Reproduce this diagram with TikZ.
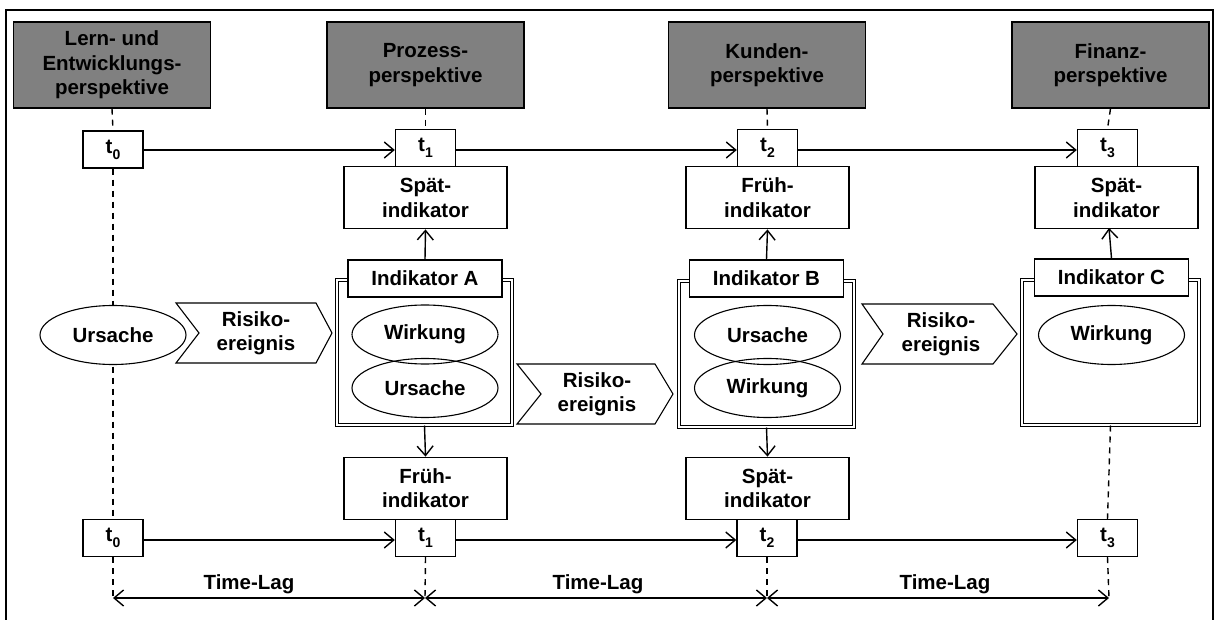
\documentclass[tikz,border=0pt]{standalone}
\usepackage{fontspec}
\setmainfont{Liberation Sans}
\usetikzlibrary{arrows.meta,shapes.geometric}
\definecolor{hdrgray}{RGB}{128,128,128}
\newcommand{\tsub}[1]{t\raisebox{-6pt}{\fontsize{14}{14}\selectfont #1}}
\begin{document}
\begin{tikzpicture}[x=1pt,y=-1pt,
  line width=1.4pt,
  >={Straight Barb[length=9.5pt,width=16pt]},
  every node/.style={font=\bfseries\fontsize{20.5}{24.5}\selectfont, align=center, inner sep=0pt},
  hdr/.style={draw, fill=hdrgray, minimum width=197pt, minimum height=86pt},
  tbox/.style={draw, fill=white, minimum width=60pt, minimum height=37pt},
  indbox/.style={draw, fill=white, minimum width=163pt, minimum height=62pt},
  labbox/.style={draw, fill=white, minimum width=154pt, minimum height=37pt},
  dblbox/.style={draw, double, double distance=2pt, line width=1pt, fill=white},
  oval/.style={draw, ellipse, line width=1.1pt, minimum width=146pt, minimum height=59pt},
  dline/.style={dash pattern=on 6pt off 5pt},
  chev/.style={draw, line width=1.1pt, fill=white},
]
\useasboundingbox (0,0) rectangle (1219,620);
% outer frame
\draw[line width=1.8pt] (6,10) rectangle (1213,640);

% perspective headers
\node[hdr] (h0) at (112,65)   {Lern- und\\Entwicklungs-\\perspektive};
\node[hdr] (h1) at (425.5,65) {Prozess-\\perspektive};
\node[hdr] (h2) at (767,65)   {Kunden-\\perspektive};
\node[hdr] (h3) at (1110.5,65){Finanz-\\perspektive};

% time-lag reference points
\coordinate (L0) at (113,598);
\coordinate (L1) at (425,598);
\coordinate (L2) at (767,598);
\coordinate (L3) at (1109,598);

% time marks, upper row
\node[tbox] (t0) at (113,149.5) {\tsub{0}};
\node[tbox] (t1) at (425.5,148) {\tsub{1}};
\node[tbox] (t2) at (767.5,148) {\tsub{2}};
\node[tbox] (t3) at (1107.5,148) {\tsub{3}};

% time marks, lower row
\node[tbox] (b0) at (113,538) {\tsub{0}};
\node[tbox] (b1) at (425.5,538) {\tsub{1}};
\node[tbox] (b2) at (767,538) {\tsub{2}};
\node[tbox] (b3) at (1107.5,538) {\tsub{3}};

% dashed column guides
\draw[dline] (h0.south) -- (t0.north);
\draw[dline] (t0.south) -- (b0.north);
\draw[dline] (b0.south) -- (L0);
\draw[dline] (h1.south) -- (t1.north);
\draw[dline] (b1.south) -- (L1);
\draw[dline] (h2.south) -- (t2.north);
\draw[dline] (b2.south) -- (L2);
\draw[dline] (h3.south) -- (t3.north);
\draw[dline] (b3.south) -- (L3);

% indicator boxes, upper row
\node[indbox, anchor=north] (s1) at (425.5,166) {Spät-\\indikator};
\node[indbox, anchor=north] (f2) at (767.5,166) {Früh-\\indikator};
\node[indbox, anchor=north] (s3) at (1116.5,166) {Spät-\\indikator};

% indicator boxes, lower row
\node[indbox, anchor=south] (f1) at (425.5,520) {Früh-\\indikator};
\node[indbox, anchor=south] (s2) at (767.5,520) {Spät-\\indikator};

% framed indicator groups
\node[dblbox, minimum width=175pt, minimum height=145pt] (d1) at (424.5,352.5) {};
\node[dblbox, minimum width=175pt, minimum height=146pt] (d2) at (766.5,354) {};
\node[dblbox, minimum width=177pt, minimum height=145pt] (d3) at (1110.5,352.5) {};
\node[labbox] (iA) at (425,278.5) {Indikator A};
\node[labbox] (iB) at (766.5,278.5) {Indikator B};
\node[labbox] (iC) at (1111.5,277.5) {Indikator C};

% cause / effect ovals
\node[oval, fill=white] (u0) at (113,335) {Ursache};
\node[oval] (wA) at (425,334.5) {Wirkung};
\node[oval] (uA) at (425,388) {Ursache};
\node[oval] (uB) at (767.5,335) {Ursache};
\node[oval] (wB) at (767.5,388) {Wirkung};
\node[oval] (wC) at (1111.5,335) {Wirkung};

% risk event chevrons
\draw[chev] (176,303) -- (316,303) -- (332,333) -- (316,363) -- (176,363) -- (199,333) -- cycle;
\node (r1) at (256,333) {Risiko-\\ereignis};
\draw[chev] (517,364) -- (655,364) -- (673,394) -- (655,424) -- (517,424) -- (541,394) -- cycle;
\node (r2) at (597,394) {Risiko-\\ereignis};
\draw[chev] (862,304) -- (993,304) -- (1017,334) -- (993,364) -- (862,364) -- (883,334) -- cycle;
\node (r3) at (941,334) {Risiko-\\ereignis};

% vertical arrows between indicators
\draw[->] (iA.north) -- (s1.south);
\draw[->] (d1.south) -- (f1.north);
\draw[->] (iB.north) -- (f2.south);
\draw[->] (d2.south) -- (s2.north);
\draw[->] (iC.north) -- (1109,228);
\draw[dline] (d3.south) -- (b3.north);

% time axes
\draw[->] (t0.east |- 0,150) -- (t1.west |- 0,150);
\draw[->] (t1.east |- 0,150) -- (t2.west |- 0,150);
\draw[->] (t2.east |- 0,150) -- (t3.west |- 0,150);
\draw[->] (b0.east |- 0,540) -- (b1.west |- 0,540);
\draw[->] (b1.east |- 0,540) -- (b2.west |- 0,540);
\draw[->] (b2.east |- 0,540) -- (b3.west |- 0,540);

% time lags
\draw[<->] (L0) -- (L1);
\draw[<->] (L1) -- (L2);
\draw[<->] (L2) -- (L3);
\node (tl1) at (249,584) {Time-Lag};
\node (tl2) at (598,584) {Time-Lag};
\node (tl3) at (945,584) {Time-Lag};
\end{tikzpicture}
\end{document}
